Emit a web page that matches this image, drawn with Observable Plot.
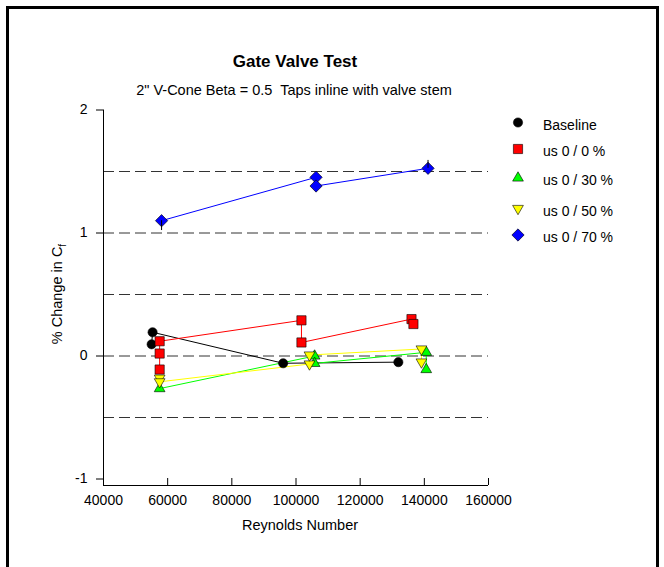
<!DOCTYPE html>
<html><head><meta charset="utf-8">
<script src="https://cdn.jsdelivr.net/npm/d3@7"></script>
<script src="https://cdn.jsdelivr.net/npm/@observablehq/plot@0.6"></script>
<style>body{margin:0;background:#fff}</style>
</head><body><div id="chart"></div>
<script>
const titleText = "Gate Valve Test";
const subtitleText = "2\" V-Cone Beta = 0.5  Taps inline with valve stem";
const xLabel = "Reynolds Number";
const yLabelMain = "% Change in C";
const yLabelSub = "f";

const seriesNames = ["Baseline", "us 0 / 0 %", "us 0 / 30 %", "us 0 / 50 %", "us 0 / 70 %"];
const seriesColors = ["#000000", "#ff0000", "#00ff00", "#ffff00", "#0000ff"];

const baselineRe  = [55000, 55300, 96000, 131900];
const baselinePct = [0.095, 0.193, -0.059, -0.050];
const us0Re  = [57500, 57500, 57500, 101700, 101700, 136000, 136600];
const us0Pct = [-0.11, 0.02, 0.12, 0.29, 0.11, 0.30, 0.26];
const us30Re  = [57500, 105800, 105800, 140600, 140600];
const us30Pct = [-0.265, 0.00, -0.06, 0.03, -0.11];
const us50Re  = [57500, 57500, 104200, 104200, 139100, 139100];
const us50Pct = [-0.18, -0.21, -0.065, 0.008, 0.057, -0.049];
const us70Re  = [58100, 106250, 106250, 141150];
const us70Pct = [1.10, 1.453, 1.382, 1.526];
const us70ErrLow  = [1.02, null, null, 1.526];
const us70ErrHigh = [1.10, null, null, 1.59];

const xDomain = [40000, 160000];
const yDomain = [-1.0528, 2];
const xTicks = [40000, 60000, 80000, 100000, 120000, 140000, 160000];
const yTicks = [-1, 0, 1, 2];
const gridLines = [-0.5, 0, 0.5, 1, 1.5];

const seriesRe = [baselineRe, us0Re, us30Re, us50Re, us70Re];
const seriesPct = [baselinePct, us0Pct, us30Pct, us50Pct, us70Pct];
const symbolStyle = [
  {symbol: "circle", r: 4.6, rotate: 0},
  {symbol: "square", r: 5.2, rotate: 0},
  {symbol: "triangle", r: 4.0, rotate: 0},
  {symbol: "triangle", r: 4.0, rotate: 180},
  {symbol: "square", r: 4.9, rotate: 45}
];

const tables = seriesRe.map((res, s) => res.map((re, i) => ({Re: re, pct: seriesPct[s][i]})));
const errTable = us70Re.map((re, i) => ({Re: re, lo: us70ErrLow[i], hi: us70ErrHigh[i]})).filter(d => d.lo != null);

const marks = [
  Plot.ruleY(gridLines, {stroke: "#333", strokeWidth: 1, strokeDasharray: "11,5"})
];
tables.forEach((t, s) => {
  marks.push(Plot.line(t, {x: "Re", y: "pct", stroke: seriesColors[s], strokeWidth: 1}));
});
tables.forEach((t, s) => {
  const st = symbolStyle[s];
  marks.push(Plot.dot(t, {x: "Re", y: "pct", symbol: st.symbol, r: st.r, rotate: st.rotate,
    fill: seriesColors[s], stroke: "#000", strokeWidth: 0.6}));
});
marks.push(Plot.ruleX(errTable, {x: "Re", y1: "lo", y2: "hi", stroke: "#000", strokeWidth: 1}));
marks.push(Plot.ruleX([xDomain[0]], {stroke: "#000", strokeWidth: 1}));
marks.push(Plot.ruleY([yDomain[0]], {stroke: "#000", strokeWidth: 1}));
// x ticks point inward (upward), labels below
marks.push(Plot.axisX({ticks: xTicks, tickSize: 7, dy: -7, tickFormat: () => "", label: null, stroke: "#000", strokeOpacity: 1}));
marks.push(Plot.axisX({ticks: xTicks, tickSize: 0, tickPadding: 10, tickFormat: d => String(d), label: null}));
marks.push(Plot.axisY({ticks: yTicks, tickFormat: d => String(d), tickSize: 7, tickPadding: 9, label: null, stroke: "#000", strokeOpacity: 1}));

const chart = Plot.plot({
  width: 664,
  height: 567,
  marginLeft: 103,
  marginRight: 176,
  marginTop: 109.5,
  marginBottom: 82,
  style: {fontFamily: "Arial, 'Liberation Sans', sans-serif", fontSize: "14px", color: "#000", background: "#fff"},
  x: {domain: xDomain},
  y: {domain: yDomain},
  marks
});
document.getElementById("chart").appendChild(chart);

const svg = d3.select(chart);
const font = "Arial, 'Liberation Sans', sans-serif";
svg.append("rect").attr("x", 7.5).attr("y", 7.5).attr("width", 650).attr("height", 600)
  .attr("fill", "none").attr("stroke", "#000").attr("stroke-width", 3);
svg.append("text").attr("x", 295).attr("y", 67).attr("text-anchor", "middle")
  .attr("font-family", font).attr("font-size", 17).attr("font-weight", "bold").attr("fill", "#000").text(titleText);
svg.append("text").attr("x", 294).attr("y", 95).attr("text-anchor", "middle")
  .attr("font-family", font).attr("font-size", 14.5).attr("fill", "#000").text(subtitleText);
svg.append("text").attr("x", 300).attr("y", 530).attr("text-anchor", "middle")
  .attr("font-family", font).attr("font-size", 14.5).attr("fill", "#000").text(xLabel);
const yl = svg.append("text").attr("transform", "translate(62,294) rotate(-90)").attr("text-anchor", "middle")
  .attr("font-family", font).attr("font-size", 14.5).attr("fill", "#000");
yl.append("tspan").text(yLabelMain);
yl.append("tspan").attr("font-size", 10).attr("dy", 4).text(yLabelSub);

// legend
const legendY = [122.5, 149, 178, 208.5, 235];
const legendSymbols = [d3.symbolCircle, d3.symbolSquare, d3.symbolTriangle, d3.symbolTriangle, d3.symbolSquare];
seriesNames.forEach((name, s) => {
  const st = symbolStyle[s];
  svg.append("path")
    .attr("d", d3.symbol(legendSymbols[s], Math.PI * st.r * st.r)())
    .attr("transform", `translate(518,${legendY[s]}) rotate(${st.rotate})`)
    .attr("fill", seriesColors[s]).attr("stroke", "#000").attr("stroke-width", 0.6);
  svg.append("text").attr("x", 543).attr("y", legendY[s] + 2.5).attr("dy", "0.35em")
    .attr("text-anchor", "start")
    .attr("font-family", font).attr("font-size", 14).attr("fill", "#000").text(name);
});
</script>
</body></html>
